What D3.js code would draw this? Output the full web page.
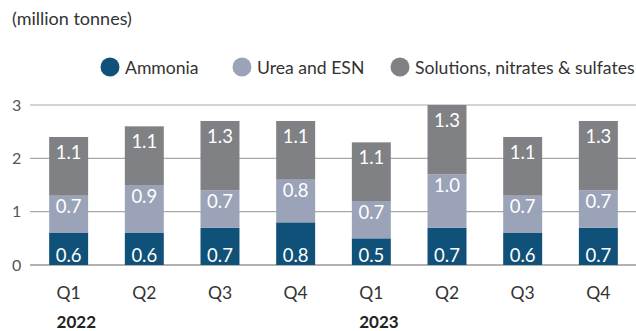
<!DOCTYPE html>
<html>
<head>
<meta charset="utf-8">
<script src="https://cdn.jsdelivr.net/npm/d3@7/dist/d3.min.js"></script>
<style>
  html, body { margin: 0; padding: 0; background: #fff; }
  svg { display: block; font-family: Lato, "Source Sans Pro", "Noto Sans", sans-serif; }
</style>
</head>
<body>
<svg id="chart" width="636" height="331"></svg>
<script>
// Quarterly sales volumes by product group (million tonnes)
const quarters = ["Q1", "Q2", "Q3", "Q4", "Q1", "Q2", "Q3", "Q4"];
const years = ["2022", "2023"];
const ammonia = [0.6, 0.6, 0.7, 0.8, 0.5, 0.7, 0.6, 0.7];
const ureaEsn = [0.7, 0.9, 0.7, 0.8, 0.7, 1.0, 0.7, 0.7];
const solutions = [1.1, 1.1, 1.3, 1.1, 1.1, 1.3, 1.1, 1.3];
const seriesNames = ["Ammonia", "Urea and ESN", "Solutions, nitrates & sulfates"];
const seriesColors = ["#0f5178", "#9aa3b7", "#808185"];
const yTicks = [0, 1, 2, 3];

const svg = d3.select("#chart");
const W = 636;

const x = d3.scaleBand()
  .domain(d3.range(quarters.length))
  .range([31, 636])
  .paddingInner(0.485)
  .paddingOuter(0.24);

const y = d3.scaleLinear().domain([0, 3]).range([265, 105]);

// rows for the stack
const rows = quarters.map((q, i) => ({ i, a: ammonia[i], u: ureaEsn[i], s: solutions[i] }));
const stack = d3.stack().keys(["a", "u", "s"]);
const layers = stack(rows);

// unit label
svg.append("text")
  .attr("x", 12).attr("y", 25)
  .attr("font-size", 18).attr("fill", "#333")
  .text("(million tonnes)");

// legend
const legendX = [110, 242, 400];
const legend = svg.append("g");
seriesNames.forEach((name, k) => {
  legend.append("circle")
    .attr("cx", legendX[k]).attr("cy", 67).attr("r", 9.5)
    .attr("fill", seriesColors[k]);
  legend.append("text")
    .attr("x", legendX[k] + 15).attr("y", 73.5)
    .attr("font-size", 17.6).attr("fill", "#333")
    .text(name);
});

// grid lines + y tick labels
const grid = svg.append("g");
grid.selectAll("line").data(yTicks).join("line")
  .attr("x1", 30).attr("x2", W)
  .attr("y1", d => y(d)).attr("y2", d => y(d))
  .attr("stroke", d => d === 0 ? "#999" : "#a8a8a8")
  .attr("stroke-width", d => d === 0 ? 1.5 : 1.2);
grid.selectAll("text").data(yTicks).join("text")
  .attr("x", 12).attr("y", d => y(d) + 5.5)
  .attr("font-size", 16).attr("fill", "#555")
  .text(d => d);

// stacked bars
const barG = svg.append("g");
layers.forEach((layer, k) => {
  barG.append("g").selectAll("rect").data(layer).join("rect")
    .attr("x", d => x(d.data.i))
    .attr("width", x.bandwidth())
    .attr("y", d => y(d[1]))
    .attr("height", d => y(d[0]) - y(d[1]))
    .attr("fill", seriesColors[k]);
});

// value labels
const labelG = svg.append("g")
  .attr("font-size", 18.5).attr("fill", "#fff").attr("text-anchor", "middle");
layers.forEach((layer, k) => {
  labelG.append("g").selectAll("text").data(layer).join("text")
    .attr("x", d => x(d.data.i) + x.bandwidth() / 2)
    .attr("y", d => k === 0 ? y(d[0]) - 3.5 : y(d[1]) + (k === 1 ? 17.5 : 21.5))
    .text(d => d3.format(".1f")(d[1] - d[0]));
});

// quarter labels
const qG = svg.append("g");
const qLabels = qG.selectAll("text").data(quarters).join("text")
  .attr("x", (d, i) => x(i) + x.bandwidth() / 2)
  .attr("y", 298.5)
  .attr("text-anchor", "middle")
  .attr("font-size", 17.5).attr("fill", "#333")
  .text(d => d);

// year labels, left-aligned with the first quarter of each year
years.forEach((yr, j) => {
  const node = qLabels.nodes()[j * 4];
  const w = node.getComputedTextLength();
  svg.append("text")
    .attr("x", x(j * 4) + x.bandwidth() / 2 - w / 2)
    .attr("y", 328)
    .attr("font-size", 17).attr("font-weight", "bold").attr("fill", "#222")
    .text(yr);
});
</script>
</body>
</html>
